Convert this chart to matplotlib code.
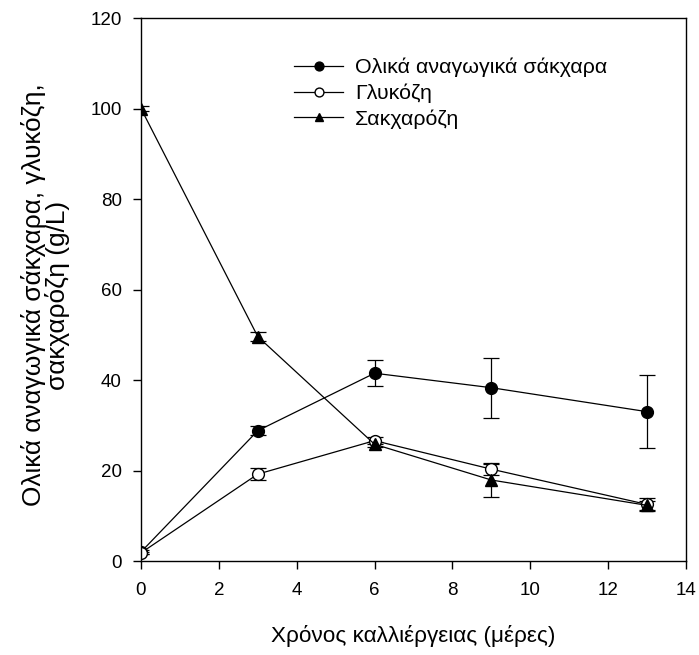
import matplotlib
matplotlib.use("Agg")
import matplotlib.pyplot as plt

plt.rcParams['font.family'] = ['Liberation Sans', 'DejaVu Sans']

days = [0, 3, 6, 9, 13]
total_sugars = [2.0, 28.8, 41.5, 38.3, 33.0]
total_err = [0.5, 1.0, 2.9, 6.6, 8.0]
glucose = [1.8, 19.2, 26.6, 20.3, 12.5]
glucose_err = [0.3, 1.3, 0.8, 1.2, 1.5]
sucrose = [100.0, 49.6, 25.8, 17.9, 12.3]
sucrose_err = [0.5, 1.0, 0.6, 3.7, 1.0]

labels = ['Ολικά αναγωγικά σάκχαρα', 'Γλυκόζη', 'Σακχαρόζη']
xlabel = 'Χρόνος καλλιέργειας (μέρες)'
ylabel = 'Ολικά αναγωγικά σάκχαρα, γλυκόζη,\nσακχαρόζη (g/L)'

fig = plt.figure(figsize=(6.99, 6.55), dpi=100)
ax = fig.add_axes([0.2017, 0.1435, 0.7797, 0.829])

kw = dict(color='black', lw=0.9, capsize=5.5, elinewidth=0.9, capthick=0.9, ms=8.5)
ax.errorbar(days, total_sugars, yerr=total_err, fmt='-o', mfc='black', mec='black', label=labels[0], **kw)
ax.errorbar(days, glucose, yerr=glucose_err, fmt='-o', mfc='white', mec='black', label=labels[1], **kw)
ax.errorbar(days, sucrose, yerr=sucrose_err, fmt='-^', mfc='black', mec='black', label=labels[2], **kw)

ax.set_xlim(0, 14)
ax.set_ylim(0, 120)
ax.set_xticks(range(0, 15, 2))
ax.set_yticks(range(0, 121, 20))
ax.tick_params(direction='out', length=6, width=1, labelsize=13.5)
ax.tick_params(axis='x', pad=9)
ax.tick_params(axis='y', pad=7.7)
for s in ax.spines.values():
    s.set_linewidth(1)

ax.set_xlabel(xlabel, fontsize=16.2, labelpad=19)
ax.set_ylabel(ylabel, fontsize=18.9, linespacing=0.95)
ax.yaxis.set_label_coords(-0.130, 0.49)

handles, lbls = ax.get_legend_handles_labels()
handles = [h[0] for h in handles]
ax.legend(handles, lbls, loc='upper left', bbox_to_anchor=(0.281, 0.927), frameon=False,
          fontsize=15.4, handlelength=2.3, handletextpad=0.55, labelspacing=0.3,
          borderpad=0, borderaxespad=0, markerscale=0.75)

fig.savefig('out.png', dpi=100)
